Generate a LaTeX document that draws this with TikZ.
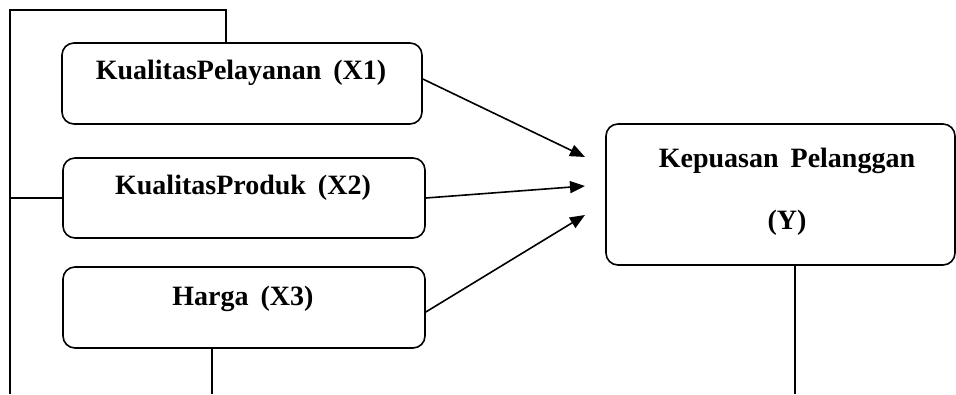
\documentclass[tikz,border=0pt]{standalone}
\usepackage{fontspec}
\setmainfont{Liberation Serif}
\usetikzlibrary{arrows.meta}
\begin{document}
\begin{tikzpicture}[x=1pt,y=-1pt,
  box/.style={draw, line width=1.6pt, rounded corners=12pt, inner sep=0pt},
  lbl/.style={inner sep=0pt, font=\fontsize{28}{32}\selectfont\bfseries},
  ln/.style={line width=1.6pt},
  arr/.style={line width=1.6pt, -{Triangle[length=15pt,width=12pt]}}]
\useasboundingbox (0,0) rectangle (956,394);
\node[box, minimum width=360pt, minimum height=81pt] (b1) at (242,83.5) {};
\node[box, minimum width=362pt, minimum height=80pt] (b2) at (244,198) {};
\node[box, minimum width=362pt, minimum height=81pt] (b3) at (244,307.5) {};
\node[box, minimum width=349pt, minimum height=141pt] (by) at (780.5,194.5) {};
\node[lbl] (t1) at (241,73) {KualitasPelayanan\hspace{12pt}(X1)};
\node[lbl] (t2) at (243,188) {KualitasProduk\hspace{12pt}(X2)};
\node[lbl] (t3) at (243,299) {Harga\hspace{12pt}(X3)};
\node[lbl] (ty1) at (787,161) {Kepuasan\hspace{12pt}Pelanggan};
\node[lbl] (ty2) at (787,223) {(Y)};
\coordinate (c1) at (226,10);
\coordinate (tl) at (10,10);
\coordinate (bl) at (10,394);
\coordinate (c3) at (212,394);
\coordinate (cy) at (795,394);
\coordinate (p1) at (585,157);
\coordinate (p2) at (585,186);
\coordinate (p3) at (585,215);
\draw[ln] (b1.north -| c1) -- (c1) -- (tl) -- (bl);
\draw[ln] (b2.west) -- (b2.west -| tl);
\draw[ln] (b3.south -| c3) -- (c3);
\draw[ln] (by.south -| cy) -- (cy);
\draw[arr] ([yshift=4.5pt]b1.east) -- (p1);
\draw[arr] (b2.east) -- (p2);
\draw[arr] ([yshift=-4.5pt]b3.east) -- (p3);
\end{tikzpicture}
\end{document}
